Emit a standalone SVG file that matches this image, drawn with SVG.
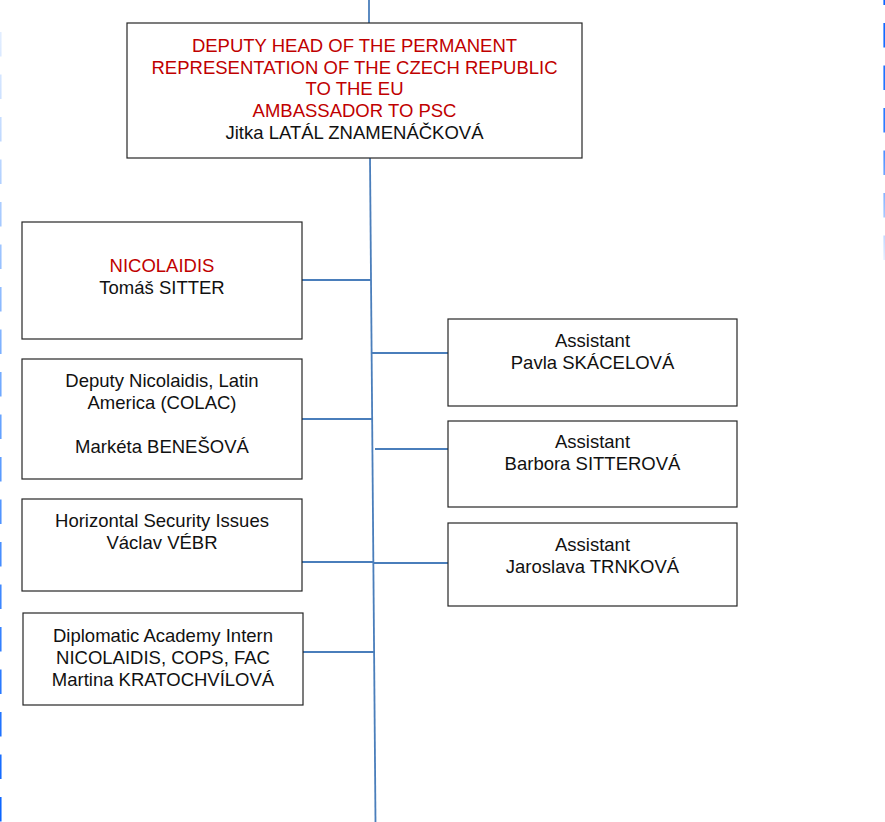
<svg xmlns="http://www.w3.org/2000/svg" width="885" height="822" viewBox="0 0 885 822">
<style>
.box{fill:#fff;stroke:#262626;stroke-width:1.2}
.t{font-family:"Liberation Sans",Arial,sans-serif;font-size:18.5px;fill:#111;text-anchor:middle}
.red{fill:#c00000}
.ln{stroke:#4a7ebb;stroke-width:1.8;fill:none}
</style>
<defs>
<linearGradient id="gl" gradientUnits="userSpaceOnUse" x1="0" y1="20" x2="0" y2="822">
<stop offset="0" stop-color="#e6f0ff"/>
<stop offset="0.5" stop-color="#66a3ff"/>
<stop offset="1" stop-color="#0a64ff"/>
</linearGradient>
<linearGradient id="gr" gradientUnits="userSpaceOnUse" x1="0" y1="0" x2="0" y2="262">
<stop offset="0" stop-color="#0a64ff"/>
<stop offset="0.5" stop-color="#2f7dff"/>
<stop offset="1" stop-color="#e6f0ff"/>
</linearGradient>
</defs>
<g id="page-edges">
<line x1="0.75" y1="32" x2="0.75" y2="822" stroke="url(#gl)" stroke-width="1.6" stroke-dasharray="24.5 18"/>
<line x1="884.2" y1="-19.5" x2="884.2" y2="260" stroke="url(#gr)" stroke-width="1.6" stroke-dasharray="24.5 18"/>
</g>
<g id="connectors">
<line class="ln" x1="369" y1="0" x2="369" y2="23"/>
<line class="ln" x1="370" y1="158" x2="375.5" y2="822"/>
<line class="ln" x1="302" y1="280" x2="371" y2="280"/>
<line class="ln" x1="302" y1="419" x2="372.2" y2="419"/>
<line class="ln" x1="302" y1="562" x2="373.3" y2="562"/>
<line class="ln" x1="303" y1="652" x2="374.1" y2="652"/>
<line class="ln" x1="371.6" y1="353" x2="448" y2="353"/>
<line class="ln" x1="375" y1="449" x2="448" y2="449"/>
<line class="ln" x1="373.3" y1="563" x2="448" y2="563"/>
</g>
<g id="deputy-head">
<rect class="box" x="127" y="23" width="455" height="135"/>
<text class="t red" x="354.5" y="52">DEPUTY HEAD OF THE PERMANENT</text>
<text class="t red" x="354.5" y="73.5">REPRESENTATION OF THE CZECH REPUBLIC</text>
<text class="t red" x="354.5" y="95">TO THE EU</text>
<text class="t red" x="354.5" y="117">AMBASSADOR TO PSC</text>
<text class="t" x="354.5" y="139">Jitka LATÁL ZNAMENÁČKOVÁ</text>
</g>
<g id="nicolaidis">
<rect class="box" x="22" y="222" width="280" height="117"/>
<text class="t red" x="162" y="272">NICOLAIDIS</text>
<text class="t" x="162" y="294">Tomáš SITTER</text>
</g>
<g id="deputy-nicolaidis">
<rect class="box" x="22" y="359" width="280" height="120"/>
<text class="t" x="162" y="387">Deputy Nicolaidis, Latin</text>
<text class="t" x="162" y="409">America (COLAC)</text>
<text class="t" x="162" y="453">Markéta BENEŠOVÁ</text>
</g>
<g id="horizontal-security">
<rect class="box" x="22" y="499" width="280" height="92"/>
<text class="t" x="162" y="527">Horizontal Security Issues</text>
<text class="t" x="162" y="549">Václav VÉBR</text>
</g>
<g id="intern">
<rect class="box" x="23" y="613" width="280" height="92"/>
<text class="t" x="163" y="642">Diplomatic Academy Intern</text>
<text class="t" x="163" y="664">NICOLAIDIS, COPS, FAC</text>
<text class="t" x="163" y="686">Martina KRATOCHVÍLOVÁ</text>
</g>
<g id="assistant-skacelova">
<rect class="box" x="448" y="319" width="289" height="87"/>
<text class="t" x="592.5" y="347">Assistant</text>
<text class="t" x="592.5" y="369">Pavla SKÁCELOVÁ</text>
</g>
<g id="assistant-sitterova">
<rect class="box" x="448" y="421" width="289" height="86"/>
<text class="t" x="592.5" y="448">Assistant</text>
<text class="t" x="592.5" y="470">Barbora SITTEROVÁ</text>
</g>
<g id="assistant-trnkova">
<rect class="box" x="448" y="523" width="289" height="83"/>
<text class="t" x="592.5" y="551">Assistant</text>
<text class="t" x="592.5" y="573">Jaroslava TRNKOVÁ</text>
</g>
</svg>
